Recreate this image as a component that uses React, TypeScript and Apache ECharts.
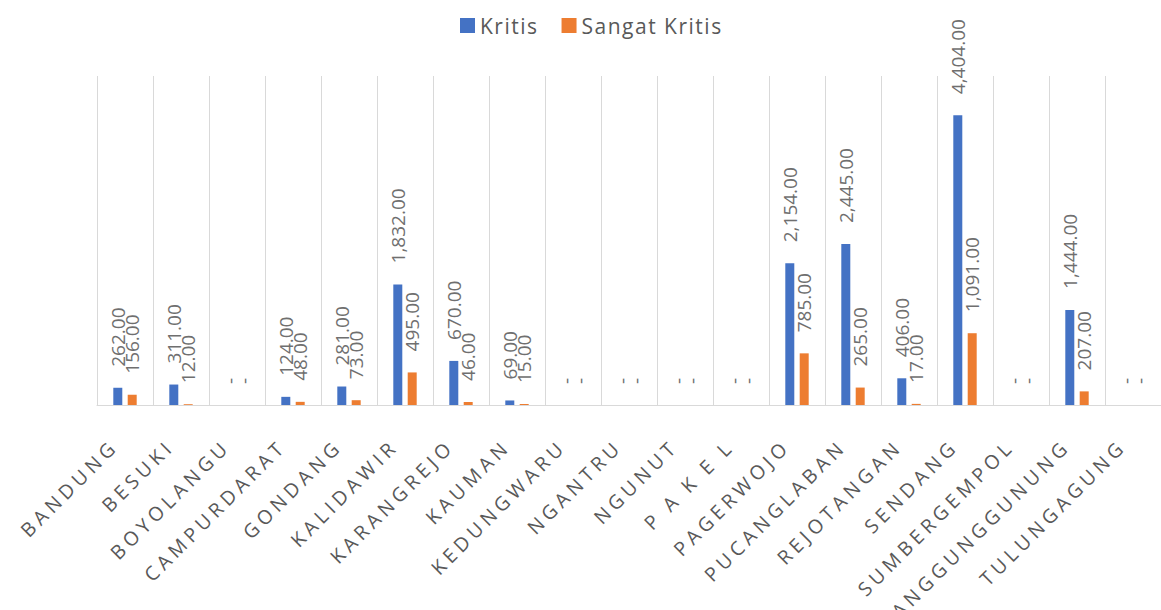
import React, { useEffect, useRef } from "react";
import * as echarts from "echarts";

const categories = [
  "BANDUNG", "BESUKI", "BOYOLANGU", "CAMPURDARAT", "GONDANG", "KALIDAWIR",
  "KARANGREJO", "KAUMAN", "KEDUNGWARU", "NGANTRU", "NGUNUT", "P A K E L",
  "PAGERWOJO", "PUCANGLABAN", "REJOTANGAN", "SENDANG", "SUMBERGEMPOL",
  "TANGGUNGGUNUNG", "TULUNGAGUNG",
];
const kritis = [262, 311, 0, 124, 281, 1832, 670, 69, 0, 0, 0, 0, 2154, 2445, 406, 4404, 0, 1444, 0];
const sangatKritis = [156, 12, 0, 48, 73, 495, 46, 15, 0, 0, 0, 0, 785, 265, 17, 1091, 0, 207, 0];

const fmt = (v: number) =>
  v === 0 ? "-" : v.toLocaleString("en-US", { minimumFractionDigits: 2, maximumFractionDigits: 2 });

const css = `
#chart-root text[style*="19.5px"] { letter-spacing: 4.5px; }
#chart-root text[style*="21px"] { letter-spacing: 1.5px; }
`;

export default function App() {
  const ref = useRef<HTMLDivElement>(null);
  useEffect(() => {
    if (!ref.current) return;
    const chart = echarts.init(ref.current, null, { renderer: "svg" });
    const font = "'Open Sans', 'Noto Sans', sans-serif";
    const labelCfg = {
      show: true,
      position: "top" as const,
      rotate: 90,
      align: "left" as const,
      verticalAlign: "middle" as const,
      distance: 21,
      fontSize: 19,
      fontFamily: font,
      color: "#6f6f6f",
      formatter: (p: any) => fmt(p.value as number),
    };
    chart.setOption({
      animation: false,
      backgroundColor: "#ffffff",
      legend: {
        top: 10,
        left: 455,
        itemWidth: 15,
        itemHeight: 15,
        itemGap: 32,
        icon: "rect",
        textStyle: { fontSize: 21, color: "#595959", fontFamily: font },
        data: ["Kritis", "Sangat Kritis"],
      },
      grid: { left: 97, right: -5, top: 76, bottom: 205, containLabel: false },
      xAxis: {
        type: "category",
        data: categories,
        boundaryGap: true,
        axisLine: { show: true, lineStyle: { color: "#d9d9d9", width: 1 } },
        axisTick: { show: false },
        splitLine: { show: true, lineStyle: { color: "#d9d9d9", width: 1 } },
        axisLabel: {
          interval: 0,
          rotate: 45,
          margin: 27,
          padding: [0, 15, 0, 0],
          fontSize: 19.5,
          fontFamily: font,
          color: "#595959",
        },
      },
      yAxis: {
        type: "value",
        min: 0,
        max: 5000,
        show: false,
        splitLine: { show: false },
      },
      series: [
        {
          name: "Kritis",
          type: "bar",
          data: kritis,
          barWidth: 9,
          barGap: "60%",
          itemStyle: { color: "#4472C4" },
          label: labelCfg,
        },
        {
          name: "Sangat Kritis",
          type: "bar",
          data: sangatKritis,
          barWidth: 9,
          itemStyle: { color: "#ED7D31" },
          label: labelCfg,
        },
      ],
    });
    return () => chart.dispose();
  }, []);
  return (
    <>
      <style>{css}</style>
      <div
        id="chart-root"
        ref={ref}
        style={{ position: "fixed", left: 0, top: 0, width: 1161, height: 610, background: "#fff" }}
      />
    </>
  );
}
